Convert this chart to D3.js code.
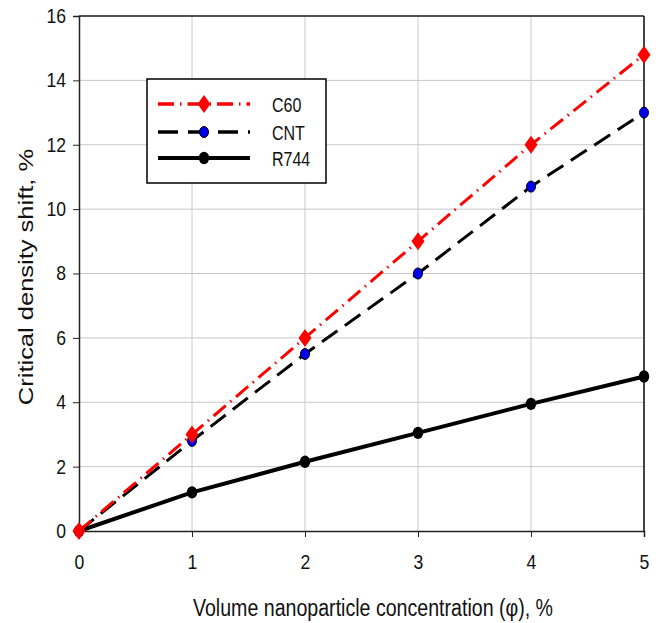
<!DOCTYPE html>
<html><head><meta charset="utf-8">
<script src="https://cdn.jsdelivr.net/npm/d3@7"></script>
<style>body{margin:0;background:#fff}svg{font-family:"Liberation Sans",Arial,sans-serif}</style>
</head><body>
<svg id="c" width="659" height="623"></svg>
<script>
const xValues=[0,1,2,3,4,5];
const c60=[0,3,6,9,12,14.8];
const cnt=[0,2.8,5.5,8,10.7,13];
const r744=[0,1.2,2.15,3.05,3.95,4.8];
const yTicks=[0,2,4,6,8,10,12,14,16];
const seriesNames=["C60","CNT","R744"];

const SX=0.8;  // horizontal compression of title glyphs
const TX=0.88; // horizontal compression of tick glyphs
const svg=d3.select("#c");
const L=79,R=644,T=16,B=531;
const x=d3.scaleLinear().domain([0,5]).range([L,R]);
const y=d3.scaleLinear().domain([0,16]).range([B,T]);

// grid
svg.append("g").selectAll("line").data(yTicks.slice(1)).join("line")
 .attr("x1",L).attr("x2",R).attr("y1",d=>y(d)).attr("y2",d=>y(d)).attr("stroke","#c8c8c8").attr("stroke-width",1);
svg.append("g").selectAll("line").data(xValues.slice(1)).join("line")
 .attr("x1",d=>x(d)).attr("x2",d=>x(d)).attr("y1",T).attr("y2",B).attr("stroke","#c8c8c8").attr("stroke-width",1);
// frame top/right
svg.append("line").attr("x1",L).attr("x2",R).attr("y1",T).attr("y2",T).attr("stroke","#222").attr("stroke-width",1.5);
svg.append("line").attr("x1",R).attr("x2",R).attr("y1",T).attr("y2",B).attr("stroke","#111").attr("stroke-width",1.5);

const xa=svg.append("g").attr("transform",`translate(0,${B})`).call(d3.axisBottom(x).tickValues(xValues).tickFormat(d3.format("d")).tickSize(6).tickPadding(18));
const ya=svg.append("g").attr("transform",`translate(${L},0)`).call(d3.axisLeft(y).tickValues(yTicks).tickSize(6).tickPadding(7));
[xa,ya].forEach(a=>{a.select(".domain").attr("stroke","#222").attr("stroke-width",1.5);
 a.selectAll(".tick line").attr("stroke","#222");
 a.selectAll("text").attr("font-size",20).attr("fill","#111").attr("font-family","Liberation Sans, Arial, sans-serif");});
xa.selectAll(".tick text").attr("transform",`scale(${TX},1)`);
ya.selectAll(".tick text").each(function(){const t=d3.select(this);const xx=+t.attr("x");t.attr("x",xx/TX).attr("transform",`scale(${TX},1)`);});

const line=d3.line().x((d,i)=>x(xValues[i])).y(d=>y(d));
const diamond="M0,-9L6.5,0L0,9L-6.5,0Z";
// R744
svg.append("path").datum(r744).attr("d",line).attr("fill","none").attr("stroke","#000").attr("stroke-width",4);
svg.append("g").selectAll("ellipse").data(r744).join("ellipse").attr("cx",(d,i)=>x(xValues[i])).attr("cy",d=>y(d)).attr("rx",5.2).attr("ry",6.2).attr("fill","#000");
// CNT
svg.append("path").datum(cnt).attr("d",line).attr("fill","none").attr("stroke","#000").attr("stroke-width",3).attr("stroke-dasharray","19,9");
svg.append("g").selectAll("ellipse").data(cnt).join("ellipse").attr("cx",(d,i)=>x(xValues[i])).attr("cy",d=>y(d)).attr("rx",4.5).attr("ry",5.5).attr("fill","#0000ee").attr("stroke","#000").attr("stroke-width",1);
// C60
svg.append("path").datum(c60).attr("d",line).attr("fill","none").attr("stroke","#f00").attr("stroke-width",3).attr("stroke-dasharray","16,6,1.5,6");
svg.append("g").selectAll("path").data(c60).join("path").attr("d",diamond)
 .attr("transform",(d,i)=>`translate(${x(xValues[i])},${y(d)})`).attr("fill","#f00");

// legend
const lg=svg.append("g");
lg.append("rect").attr("x",147).attr("y",79).attr("width",179).attr("height",104).attr("fill","#fff").attr("stroke","#000").attr("stroke-width",1.5);
const ly=[104,132,158];
lg.append("line").attr("x1",158).attr("x2",250).attr("y1",ly[0]).attr("y2",ly[0]).attr("stroke","#f00").attr("stroke-width",3.5).attr("stroke-dasharray","16,6,1.5,6");
lg.append("path").attr("d",diamond).attr("transform",`translate(204,${ly[0]})`).attr("fill","#f00");
lg.append("line").attr("x1",158).attr("x2",250).attr("y1",ly[1]).attr("y2",ly[1]).attr("stroke","#000").attr("stroke-width",3.5).attr("stroke-dasharray","20,10");
lg.append("ellipse").attr("cx",204).attr("cy",ly[1]).attr("rx",4.5).attr("ry",5.5).attr("fill","#0000ee").attr("stroke","#000");
lg.append("line").attr("x1",158).attr("x2",250).attr("y1",ly[2]).attr("y2",ly[2]).attr("stroke","#000").attr("stroke-width",4);
lg.append("ellipse").attr("cx",204).attr("cy",ly[2]).attr("rx",5.2).attr("ry",6.2).attr("fill","#000");
lg.selectAll("text").data(seriesNames).join("text").attr("transform",(d,i)=>`translate(272,${ly[i]+8}) scale(${SX},1)`).attr("font-size",20).attr("fill","#111").text(d=>d);

// axis titles
svg.append("text").attr("transform",`translate(373,616) scale(${SX},1)`).attr("text-anchor","middle").attr("font-size",24.5).attr("fill","#111").text("Volume nanoparticle concentration (φ), %");
svg.append("text").attr("transform",`translate(33,277) scale(${SX},1) rotate(-90)`).attr("text-anchor","middle").attr("font-size",25.5).attr("fill","#111").text("Critical density shift, %");
</script>
</body></html>
